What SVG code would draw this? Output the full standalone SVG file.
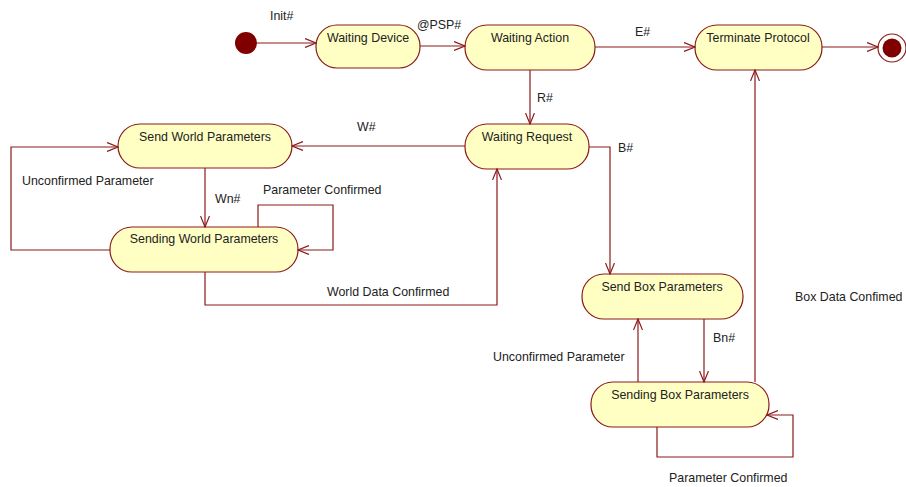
<svg xmlns="http://www.w3.org/2000/svg" width="906" height="487" viewBox="0 0 906 487">
  <style>
    .node rect { fill: #ffffc4; stroke: #8b1a1a; stroke-width: 1.2; }
    .node text { font-family: "Liberation Sans", Arial, sans-serif; font-size: 12.4px; fill: #222; text-anchor: middle; }
    .edge { fill: none; stroke: #8b1a1a; stroke-width: 1.2; marker-end: url(#open); }
    .lbl { font-family: "Liberation Sans", Arial, sans-serif; font-size: 12.4px; fill: #222; }
  </style>
  <defs>
    <marker id="open" viewBox="0 0 12 10" refX="11" refY="5" markerWidth="12" markerHeight="10" markerUnits="userSpaceOnUse" orient="auto">
      <path d="M0,0.5 L11,5 L0,9.5" fill="none" stroke="#8b1a1a" stroke-width="1.2"/>
    </marker>
  </defs>
  <rect width="906" height="487" fill="#ffffff"/>

  <!-- pseudo states -->
  <g id="start">
    <circle cx="246" cy="43" r="11" fill="#800000"/>
  </g>
  <g id="end">
    <circle cx="892" cy="48" r="14" fill="#ffffff" stroke="#8b1a1a" stroke-width="1.2"/>
    <circle cx="892" cy="48" r="9.5" fill="#800000"/>
  </g>

  <!-- states -->
  <g id="waiting-device" class="node">
    <rect x="316" y="25" width="104" height="43" rx="21" ry="21"/>
    <text x="368" y="42">Waiting Device</text>
  </g>
  <g id="waiting-action" class="node">
    <rect x="465" y="25" width="130" height="45" rx="22" ry="22"/>
    <text x="530" y="42">Waiting Action</text>
  </g>
  <g id="terminate-protocol" class="node">
    <rect x="695" y="25" width="127" height="45" rx="22" ry="22"/>
    <text x="758" y="42">Terminate Protocol</text>
  </g>
  <g id="waiting-request" class="node">
    <rect x="465" y="124" width="124" height="45" rx="22" ry="22"/>
    <text x="527" y="141">Waiting Request</text>
  </g>
  <g id="send-world" class="node">
    <rect x="118" y="124" width="174" height="44" rx="22" ry="22"/>
    <text x="205" y="141">Send World Parameters</text>
  </g>
  <g id="sending-world" class="node">
    <rect x="110" y="227" width="188" height="45" rx="22" ry="22"/>
    <text x="204" y="243">Sending World Parameters</text>
  </g>
  <g id="send-box" class="node">
    <rect x="582" y="274" width="161" height="45" rx="22" ry="22"/>
    <text x="662" y="291">Send Box Parameters</text>
  </g>
  <g id="sending-box" class="node">
    <rect x="591" y="382" width="178" height="45" rx="22" ry="22"/>
    <text x="680" y="399">Sending Box Parameters</text>
  </g>

  <!-- transitions -->
  <g id="connectors">
    <path class="edge" d="M257,43 L316,43"/>
    <path class="edge" d="M420,46 L465,46"/>
    <path class="edge" d="M595,47 L695,47"/>
    <path class="edge" d="M822,47 L878,47"/>
    <path class="edge" d="M530,70 L530,124"/>
    <path class="edge" d="M465,146 L292,146"/>
    <path class="edge" d="M205,168 L205,227"/>
    <path class="edge" d="M110,250 L11,250 L11,147 L118,147"/>
    <path class="edge" d="M258,227 L258,205 L333,205 L333,250 L298,250"/>
    <path class="edge" d="M205,272 L205,305 L497,305 L497,169"/>
    <path class="edge" d="M589,147 L610,147 L610,274"/>
    <path class="edge" d="M704,319 L704,382"/>
    <path class="edge" d="M638,382 L638,319"/>
    <path class="edge" d="M755,382 L755,70"/>
    <path class="edge" d="M657,427 L657,457 L793,457 L793,415 L767,415"/>
  </g>

  <!-- transition labels -->
  <g id="labels">
    <text class="lbl" x="270" y="20">Init#</text>
    <text class="lbl" x="417" y="29">@PSP#</text>
    <text class="lbl" x="635" y="36">E#</text>
    <text class="lbl" x="537" y="102">R#</text>
    <text class="lbl" x="357" y="131">W#</text>
    <text class="lbl" x="215" y="203">Wn#</text>
    <text class="lbl" x="22" y="185">Unconfirmed Parameter</text>
    <text class="lbl" x="263" y="194">Parameter Confirmed</text>
    <text class="lbl" x="327" y="296">World Data Confirmed</text>
    <text class="lbl" x="618" y="152">B#</text>
    <text class="lbl" x="795" y="301">Box Data Confimed</text>
    <text class="lbl" x="713" y="342">Bn#</text>
    <text class="lbl" x="493" y="361">Unconfirmed Parameter</text>
    <text class="lbl" x="669" y="482">Parameter Confirmed</text>
  </g>
</svg>
